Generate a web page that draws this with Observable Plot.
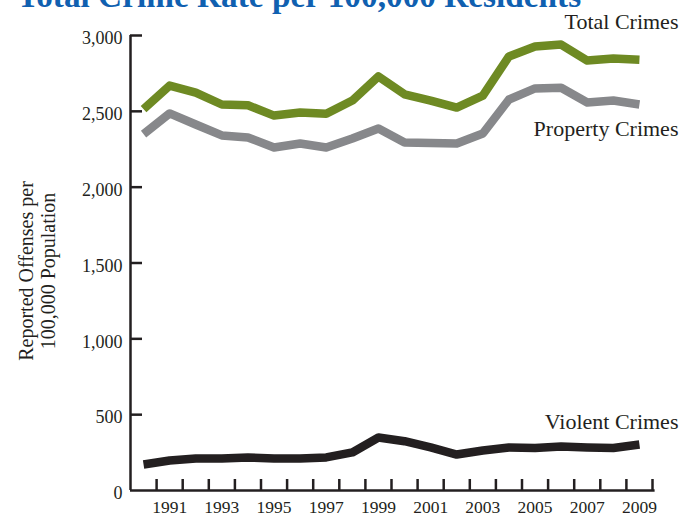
<!DOCTYPE html>
<html>
<head>
<meta charset="utf-8">
<script src="https://cdn.jsdelivr.net/npm/d3@7"></script>
<script src="https://cdn.jsdelivr.net/npm/@observablehq/plot@0.6"></script>
<style>
  html, body { margin: 0; padding: 0; background: #ffffff; overflow: hidden; }
  #wrap { position: relative; width: 693px; height: 517px; }
  #title {
    position: absolute; left: 17px; top: -21px; margin: 0;
    font: bold 33.3px "Liberation Serif", "DejaVu Serif", serif; line-height: 33px;
    color: #1060b0; white-space: nowrap;
  }
  #chart { position: absolute; left: 0; top: 0; }
</style>
</head>
<body>
<div id="wrap">
  <div id="chart"></div>
  <div id="title">Total Crime Rate per 100,000 Residents</div>
</div>
<script>
const years = [1990, 1991, 1992, 1993, 1994, 1995, 1996, 1997, 1998, 1999,
               2000, 2001, 2002, 2003, 2004, 2005, 2006, 2007, 2008, 2009];
const totalCrimes    = [2515, 2670, 2624, 2545, 2540, 2472, 2492, 2484, 2571, 2730,
                        2612, 2571, 2525, 2604, 2862, 2927, 2940, 2835, 2848, 2840];
const propertyCrimes = [2350, 2486, 2413, 2341, 2328, 2262, 2288, 2262, 2321, 2387,
                        2295, 2292, 2288, 2354, 2578, 2651, 2655, 2558, 2571, 2545];
const violentCrimes  = [171, 198, 211, 211, 218, 211, 211, 218, 251, 349,
                        325, 284, 237, 264, 284, 280, 290, 284, 280, 303];
const seriesNames  = ["Total Crimes", "Property Crimes", "Violent Crimes"];
const seriesColors = ["#6e8a23", "#87888b", "#231f20"];
const yTicks = [0, 500, 1000, 1500, 2000, 2500, 3000];
const xLabelYears = [1991, 1993, 1995, 1997, 1999, 2001, 2003, 2005, 2007, 2009];
const yTitle = "Reported Offenses per\n100,000 Population";

const seriesValues = [totalCrimes, propertyCrimes, violentCrimes];
const rows = seriesNames.flatMap((name, i) =>
  years.map((year, j) => ({series: name, year, value: seriesValues[i][j]})));
const lastRows = seriesNames.map((name, i) =>
  ({series: name, year: years[years.length - 1], value: seriesValues[i][years.length - 1]}));
const boundaries = years.map(y => y + 0.5);

const W = 693, H = 517, mT = 35, mB = 27, mL = 130, mR = 41;
const frameW = W - mL - mR, frameH = H - mT - mB;
const ink = "#231f20";
const labelDy = {"Total Crimes": -31, "Property Crimes": 31, "Violent Crimes": -16};

const chart = Plot.plot({
  width: W, height: H,
  marginTop: mT, marginBottom: mB, marginLeft: mL, marginRight: mR,
  style: {fontFamily: "'Liberation Serif', 'DejaVu Serif', serif", color: ink, background: "transparent", overflow: "visible"},
  x: {domain: [years[0] - 0.5, years[years.length - 1] + 0.5]},
  y: {domain: [yTicks[0], yTicks[yTicks.length - 1]]},
  color: {domain: seriesNames, range: seriesColors},
  marks: [
    Plot.axisY({ticks: yTicks, tickSize: 0, tickPadding: 8, tickFormat: d3.format(","), fontSize: 18, dy: 3, label: null}),
    Plot.axisX({ticks: xLabelYears, tickSize: 0, tickPadding: 10, tickFormat: d => String(d), fontSize: 17.5, label: null}),
    Plot.tickY(yTicks.slice(1), {y: d => d, stroke: ink, strokeWidth: 2.5, insetRight: frameW - 12}),
    Plot.tickX(boundaries, {x: d => d, stroke: ink, strokeWidth: 2.5, insetTop: frameH - 11}),
    Plot.ruleX([years[0] - 0.5], {stroke: ink, strokeWidth: 2.5}),
    Plot.ruleY([0], {stroke: ink, strokeWidth: 2.5, x1: years[0] - 0.5, x2: years[years.length - 1] + 0.6}),
    Plot.line(rows, {x: "year", y: "value", z: "series", stroke: "series", strokeWidth: 8.5,
                     strokeLinecap: "butt", strokeLinejoin: "round"}),
    ...seriesNames.map(name =>
      Plot.text(lastRows.filter(d => d.series === name), {
        x: "year", y: "value", text: "series", textAnchor: "end", lineAnchor: "bottom",
        dx: 39, dy: labelDy[name], fontSize: 22, fill: ink
      })),
    Plot.text([yTitle], {text: d => d, frameAnchor: "left", rotate: -90, dx: -94, dy: 8,
                         textAnchor: "middle", fontSize: 20, lineHeight: 1.1, fill: ink, lineAnchor: "middle"})
  ]
});
document.getElementById("chart").appendChild(chart);
</script>
</body>
</html>
